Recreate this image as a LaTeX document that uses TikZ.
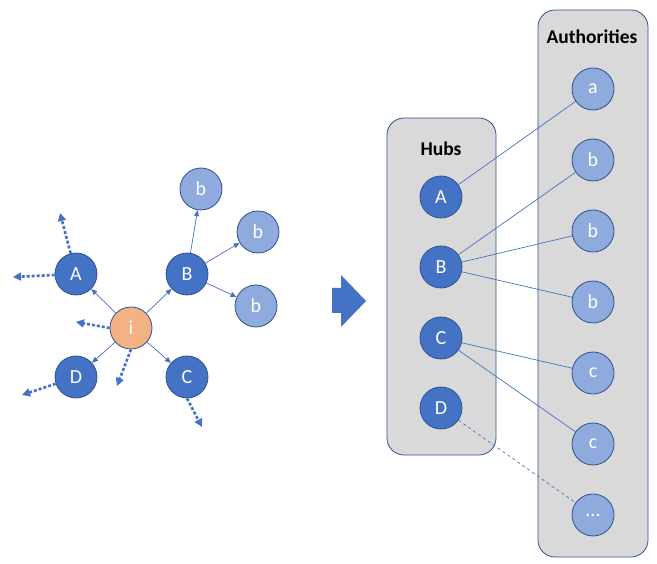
\documentclass[tikz,border=0pt]{standalone}
\usepackage{fontspec}
\setmainfont{Carlito}
\usetikzlibrary{shapes, arrows.meta, positioning}

\definecolor{hubblue}{HTML}{4472C4}
\definecolor{authblue}{HTML}{8FAADC}
\definecolor{bordblue}{HTML}{2F528F}
\definecolor{panelgray}{HTML}{D9D9D9}
\definecolor{seedorange}{HTML}{F4B183}

\begin{document}
\begin{tikzpicture}[x=1pt, y=-1pt,
        hub/.style={draw=bordblue, fill=hubblue, circle, minimum size=42pt, inner sep=0pt, line width=0.8pt, text=white, font=\fontsize{20}{22}\selectfont},
        auth/.style={hub, fill=authblue},
        seed/.style={hub, fill=seedorange},
        panel/.style={draw=bordblue, fill=panelgray, rectangle, rounded corners=17pt, line width=0.8pt},
        title/.style={font=\fontsize{19.5}{22}\selectfont\bfseries},
        link/.style={draw=hubblue, line width=0.7pt},
        inlink/.style={link, -{Triangle[length=6pt, width=5pt]}},
        outlink/.style={draw=hubblue, line width=2.6pt, dash pattern=on 3pt off 2pt, -{Triangle[length=8pt, width=8pt]}}]
        \useasboundingbox (0,0) rectangle (657,564);

        % Draw the root set graph
        \node (i)  [seed] at (131,328) {i};
        \node (A)  [hub]  at (76,274)  {A};
        \node (B)  [hub]  at (187,274) {B};
        \node (C)  [hub]  at (187,377) {C};
        \node (D)  [hub]  at (76,377)  {D};
        \node (b1) [auth] at (201,189) {b};
        \node (b2) [auth] at (258,232) {b};
        \node (b3) [auth] at (256,306) {b};

        \coordinate (outA1) at (60,213);
        \coordinate (outA2) at (13,277);
        \coordinate (outI1) at (76,322);
        \coordinate (outI2) at (117,386);
        \coordinate (outD)  at (22,395);
        \coordinate (outC)  at (202,427);

        % Draw the connecting arrows
        \draw [inlink] (i) -- (A);
        \draw [inlink] (i) -- (B);
        \draw [inlink] (i) -- (C);
        \draw [inlink] (i) -- (D);
        \draw [inlink] (B) -- (b1);
        \draw [inlink] (B) -- (b2);
        \draw [inlink] (B) -- (b3);

        % Add the outgoing links
        \draw [outlink] (A) -- (outA1);
        \draw [outlink] (A) -- (outA2);
        \draw [outlink] (i.west) -- (outI1);
        \draw [outlink] (i.south) -- (outI2);
        \draw [outlink] (D) -- (outD);
        \draw [outlink] (C.south) -- (outC);

        % Draw the big arrow
        \fill [hubblue] (332,288) -- (341,288) -- (341,275) -- (366,301) -- (341,327) -- (341,313) -- (332,313) -- cycle;

        % Draw the panels
        \node (hubs)  [panel, minimum width=109pt, minimum height=337pt] at (441.5,286.5) {};
        \node (auths) [panel, minimum width=110pt, minimum height=547pt] at (593,283.5) {};
        \node (hubstitle)  [title] at (441,149) {Hubs};
        \node (authstitle) [title] at (592,37)  {Authorities};

        \node (hubA) [hub] at (441,197) {A};
        \node (hubB) [hub] at (441,267) {B};
        \node (hubC) [hub] at (441,338) {C};
        \node (hubD) [hub] at (441,408) {D};

        \node (autha)  [auth] at (593,89)  {a};
        \node (authb1) [auth] at (593,160) {b};
        \node (authb2) [auth] at (593,231) {b};
        \node (authb3) [auth] at (593,302) {b};
        \node (authc1) [auth] at (593,373) {c};
        \node (authc2) [auth] at (593,444) {c};
        \node (authx)  [auth] at (593,515) {...};

        % Draw the hub to authority links
        \draw [link] (hubA) -- (autha);
        \draw [link] (hubB) -- (authb1);
        \draw [link] (hubB) -- (authb2);
        \draw [link] (hubB) -- (authb3);
        \draw [link] (hubC) -- (authc1);
        \draw [link] (hubC) -- (authc2);
        \draw [link, dashed] (hubD) -- (authx);
    \end{tikzpicture}
\end{document}
